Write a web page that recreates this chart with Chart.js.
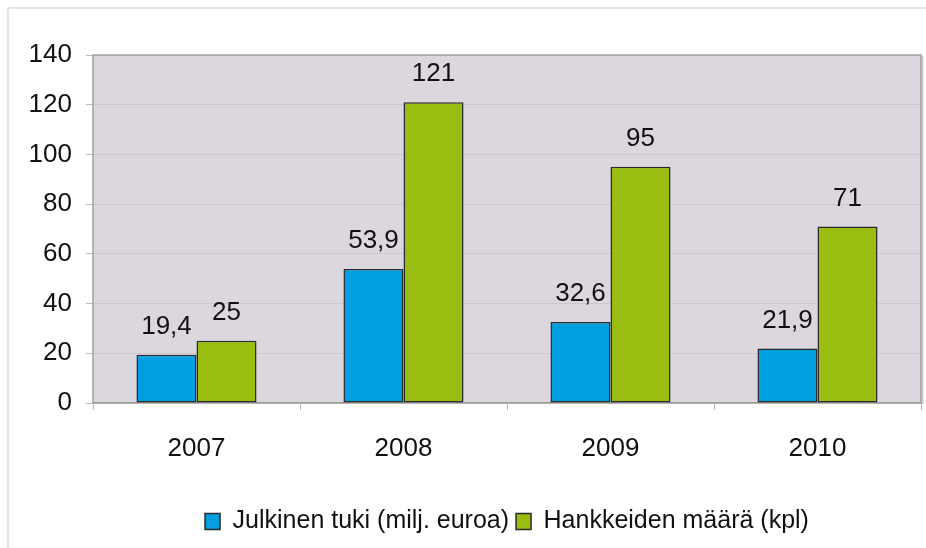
<!DOCTYPE html>
<html>
<head>
<meta charset="utf-8">
<script src="https://cdn.jsdelivr.net/npm/chart.js@4"></script>
<style>
html,body{margin:0;padding:0;background:#fff;}
#wrap{position:relative;width:926px;height:548px;}
#frame{position:absolute;left:7px;top:7px;right:0;bottom:-5px;border-left:2px solid #e6e6e6;border-top:2px solid #e6e6e6;pointer-events:none;}
canvas{position:absolute;left:0;top:0;}
</style>
</head>
<body>
<div id="wrap"><canvas id="c" width="926" height="548"></canvas><div id="frame"></div></div>
<script>
const categories = ['2007', '2008', '2009', '2010'];
const seriesNames = ['Julkinen tuki (milj. euroa)', 'Hankkeiden määrä (kpl)'];
const tukiValues = [19.4, 53.9, 32.6, 21.9];
const hankeValues = [25, 121, 95, 71];
const yTicks = [0, 20, 40, 60, 80, 100, 120, 140];

const FONT = '"Liberation Sans Narrow", "Arial Narrow", "Liberation Sans", Arial, sans-serif';

const plotBg = {
  id: 'plotBg',
  beforeDraw(chart) {
    const {ctx, chartArea: a} = chart;
    ctx.save();
    ctx.fillStyle = '#dcd6de';
    ctx.fillRect(a.left, a.top, a.right - a.left, a.bottom - a.top);
    ctx.restore();
  },
  afterDatasetsDraw(chart) {
    const {ctx, chartArea: a} = chart;
    ctx.save();
    ctx.strokeStyle = '#a4a0a6';
    ctx.lineWidth = 1.5;
    ctx.beginPath();
    ctx.moveTo(a.left, a.bottom);
    ctx.lineTo(a.left, a.top);
    ctx.lineTo(a.right, a.top);
    ctx.lineTo(a.right, a.bottom);
    ctx.stroke();
    ctx.strokeStyle = 'rgba(150,150,150,0.5)';
    ctx.lineWidth = 2;
    ctx.beginPath();
    ctx.moveTo(a.right + 1.5, a.top + 1);
    ctx.lineTo(a.right + 1.5, a.bottom + 1);
    ctx.stroke();
    ctx.restore();
  }
};

const valueLabels = {
  id: 'valueLabels',
  afterDatasetsDraw(chart) {
    const {ctx} = chart;
    ctx.save();
    ctx.font = '26px ' + FONT;
    ctx.fillStyle = '#111';
    ctx.textAlign = 'center';
    ctx.textBaseline = 'alphabetic';
    chart.data.datasets.forEach((ds, i) => {
      chart.getDatasetMeta(i).data.forEach((bar, j) => {
        const txt = String(ds.data[j]).replace('.', ',');
        ctx.fillText(txt, bar.x, bar.y - 21);
      });
    });
    ctx.restore();
  }
};

new Chart(document.getElementById('c'), {
  type: 'bar',
  data: {
    labels: categories,
    datasets: [
      {label: seriesNames[0], data: tukiValues, backgroundColor: '#009fdf', borderColor: '#2a2a2a', borderWidth: 1.5, borderSkipped: false},
      {label: seriesNames[1], data: hankeValues, backgroundColor: '#99bd10', borderColor: '#2a2a2a', borderWidth: 1.5, borderSkipped: false}
    ]
  },
  options: {
    responsive: false,
    animation: false,
    layout: {padding: {top: 55, left: 0, right: 5, bottom: 4}},
    datasets: {bar: {categoryPercentage: 0.58, barPercentage: 1.0}},
    scales: {
      x: {
        grid: {display: true, drawOnChartArea: false, tickLength: 7, tickColor: '#b8b8b8', offset: true},
        border: {color: '#9a9a9a', width: 1.5},
        ticks: {font: {family: FONT, size: 26}, color: '#111', padding: 23},
        afterFit(s) { s.height = 99; }
      },
      y: {
        min: 0, max: 140,
        afterBuildTicks(s) { s.ticks = yTicks.map(v => ({value: v})); },
        grid: {color: '#ccc7cf', lineWidth: 1, tickLength: 7, tickColor: '#b8b8b8'},
        border: {display: false},
        ticks: {font: {family: FONT, size: 26}, color: '#111', padding: 14},
        afterFit(s) { s.width = 93; }
      }
    },
    plugins: {
      legend: {
        position: 'bottom',
        fullSize: false,
        labels: {font: {family: FONT, size: 25}, color: '#111', boxWidth: 15, boxHeight: 16, padding: 7}
      },
      tooltip: {enabled: false}
    }
  },
  plugins: [plotBg, valueLabels]
});
</script>
</body>
</html>
